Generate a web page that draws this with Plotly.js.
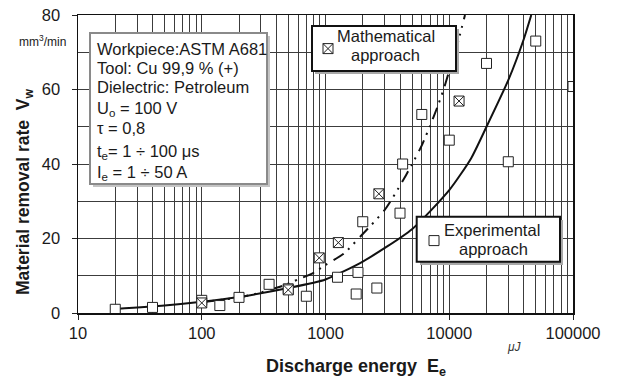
<!DOCTYPE html>
<html>
<head>
<meta charset="utf-8">
<script src="https://cdn.plot.ly/plotly-3.0.1.min.js"></script>
<style>html,body{margin:0;padding:0;background:#fff;}#chart{width:619px;height:387px;}</style>
</head>
<body>
<div id="chart"></div>
<script>
// ---- data ----
// Experimental approach (open squares)
const expE = [20, 40, 100, 140, 200, 350, 500, 700, 1250, 1770, 1830, 2000, 2600, 4000, 4200, 6000, 10000, 20000, 30000, 50000, 100000];
const expV = [1.0, 1.5, 3.4, 2.0, 4.2, 7.7, 6.5, 4.5, 9.6, 5.1, 10.9, 24.5, 6.7, 26.8, 40.0, 53.3, 46.4, 67.0, 40.6, 73.0, 60.8];
// Mathematical approach (crossed squares)
const mathE = [100, 500, 890, 1270, 2700, 12000];
const mathV = [2.7, 6.2, 14.8, 18.9, 32.0, 56.9];
// Experimental trend curve (solid)
const solidE = [20, 50, 100, 200, 500, 1000, 2000, 5000, 10000, 15000, 20000, 30000, 40000, 46000];
const solidV = [1.1, 2.0, 3.0, 4.3, 6.7, 9.0, 13.8, 22.5, 33.0, 41.5, 50.0, 62.5, 73.5, 80.0];
// Mathematical trend curve (dash-dot-dot)
const mathCurveE = [100, 200, 300, 450, 600, 800, 1000, 1400, 2000, 3000, 4000, 5000, 6000, 7000, 8000, 9000, 10000, 11000, 12000, 13400];
const mathCurveV = [2.9, 4.2, 5.5, 7.3, 9.0, 10.8, 12.9, 15.9, 21.2, 27.6, 34.2, 39.9, 45.0, 50.3, 55.2, 60.0, 65.0, 69.0, 73.8, 80.0];
// axis ticks
const xTickVals = [10, 100, 1000, 10000, 100000];
const xTickText = ['10', '100', '1000', '10000', '100000'];
const yTickVals = [0, 20, 40, 60, 80];

// ---- layout helpers (pixel -> paper) ----
const L = 78, R = 46, T = 15, B = 74, W = 619, H = 387;
const pw = W - L - R, ph = H - T - B;
const px = p => (p - L) / pw;
const py = p => (H - B - p) / ph;
const FONT = 'Liberation Sans, Arial, sans-serif';
const TXT = '#1a1a1a';

function rect(x0, y0, x1, y1, fill, line, lw) {
  return {type: 'rect', xref: 'paper', yref: 'paper', layer: 'above',
    x0: px(x0), x1: px(x1), y0: py(y1), y1: py(y0),
    fillcolor: fill, line: {color: line || 'rgba(0,0,0,0)', width: lw || 0}};
}
function ann(text, x, y, opts) {
  return Object.assign({text: text, xref: 'paper', yref: 'paper', x: px(x), y: py(y),
    xanchor: 'left', yanchor: 'middle', showarrow: false,
    font: {family: FONT, size: 16.5, color: TXT}}, opts || {});
}

const traces = [
  {x: solidE, y: solidV, mode: 'lines', line: {color: '#111', width: 2, shape: 'spline', smoothing: 0.6}, showlegend: false, hoverinfo: 'skip'},
  {x: mathCurveE, y: mathCurveV, mode: 'lines', line: {color: '#111', width: 2, shape: 'spline', smoothing: 0.6, dash: '12px,6px,2px,6px,2px,7px'}, showlegend: false, hoverinfo: 'skip'},
  {x: expE, y: expV, mode: 'markers', name: ' ', legend: 'legend2',
    marker: {symbol: 'square', size: 10, color: '#fff', line: {color: '#222', width: 1}}},
  {x: mathE, y: mathV, mode: 'markers', name: ' ', legend: 'legend',
    marker: {symbol: 'square-x', size: 10, color: '#fff', line: {color: '#222', width: 1}}}
];

const axisCommon = {
  showline: true, mirror: true, linecolor: '#111', linewidth: 1.5,
  ticks: 'outside', ticklen: 5, tickcolor: '#222', tickwidth: 1,
  gridcolor: '#3c3c3c', gridwidth: 1, zeroline: false,
  tickfont: {family: FONT, size: 16.5, color: TXT}
};

const layout = {
  width: W, height: H,
  margin: {l: L, r: R, t: T, b: B, pad: 0},
  paper_bgcolor: '#fff', plot_bgcolor: '#fff',
  font: {family: FONT, color: TXT},
  xaxis: Object.assign({}, axisCommon, {
    type: 'log', range: [1, 5], tickmode: 'array', tickvals: xTickVals, ticktext: xTickText,
    showgrid: true, ticklabelstandoff: 0,
    minor: {dtick: 'D1', showgrid: true, gridcolor: '#3c3c3c', gridwidth: 1, ticks: ''}
  }),
  yaxis: Object.assign({}, axisCommon, {
    range: [0, 80], tickmode: 'array', tickvals: yTickVals, showgrid: true, ticklabelstandoff: 8,
    minor: {dtick: 10, showgrid: true, gridcolor: '#3c3c3c', gridwidth: 1, ticks: ''}
  }),
  legend: {x: px(308), y: py(49), xanchor: 'left', yanchor: 'middle', bgcolor: 'rgba(0,0,0,0)', borderwidth: 0, font: {size: 14}, itemwidth: 30},
  legend2: {x: px(414), y: py(241), xanchor: 'left', yanchor: 'middle', bgcolor: 'rgba(0,0,0,0)', borderwidth: 0, font: {size: 14}, itemwidth: 30},
  shapes: [
    rect(93, 36, 270, 187, '#c4c4c4'),
    rect(90, 33, 267, 184, '#fff', '#8a8a8a', 2),
    rect(315, 29, 459, 74, '#a8a8a8'),
    rect(312, 26, 456, 71, '#fff', '#111', 2),
    rect(420, 220, 563, 265, '#a8a8a8'),
    rect(416.7, 216.7, 560, 261.7, '#fff', '#111', 2)
  ],
  annotations: [
    // info box
    ann('Workpiece:ASTM A681', 95, 49),
    ann('Tool: Cu 99,9 % (+)', 95, 68),
    ann('Dielectric: Petroleum', 95, 87),
    ann('U<sub>o</sub> = 100 V', 95, 109),
    ann('τ = 0,8', 95, 128),
    ann('t<sub>e</sub>= 1 ÷ 100 μs', 95, 152),
    ann('I<sub>e</sub> = 1 ÷ 50 A', 95, 173),
    // legend box texts
    ann('Mathematical', 386, 36, {xanchor: 'center'}),
    ann('approach', 385, 55, {xanchor: 'center'}),
    ann('Experimental', 492, 230, {xanchor: 'center'}),
    ann('approach', 493, 249, {xanchor: 'center'}),
    // axis titles and units
    ann('<b>Discharge energy  E<sub>e</sub></b>', 356, 367, {xanchor: 'center', font: {family: FONT, size: 18, color: TXT}}),
    ann('<i>μJ</i>', 514, 347, {xanchor: 'center', font: {family: FONT, size: 12, color: '#333'}}),
    ann('<b>Material removal rate  V<sub>w</sub></b>', 24, 192, {xanchor: 'center', textangle: -90, font: {family: FONT, size: 17.5, color: TXT}}),
    ann('mm<sup>3</sup>/min', 42, 41, {xanchor: 'center', font: {family: FONT, size: 12, color: TXT}})
  ]
};

Plotly.newPlot('chart', traces, layout, {displayModeBar: false, staticPlot: true});
</script>
</body>
</html>
